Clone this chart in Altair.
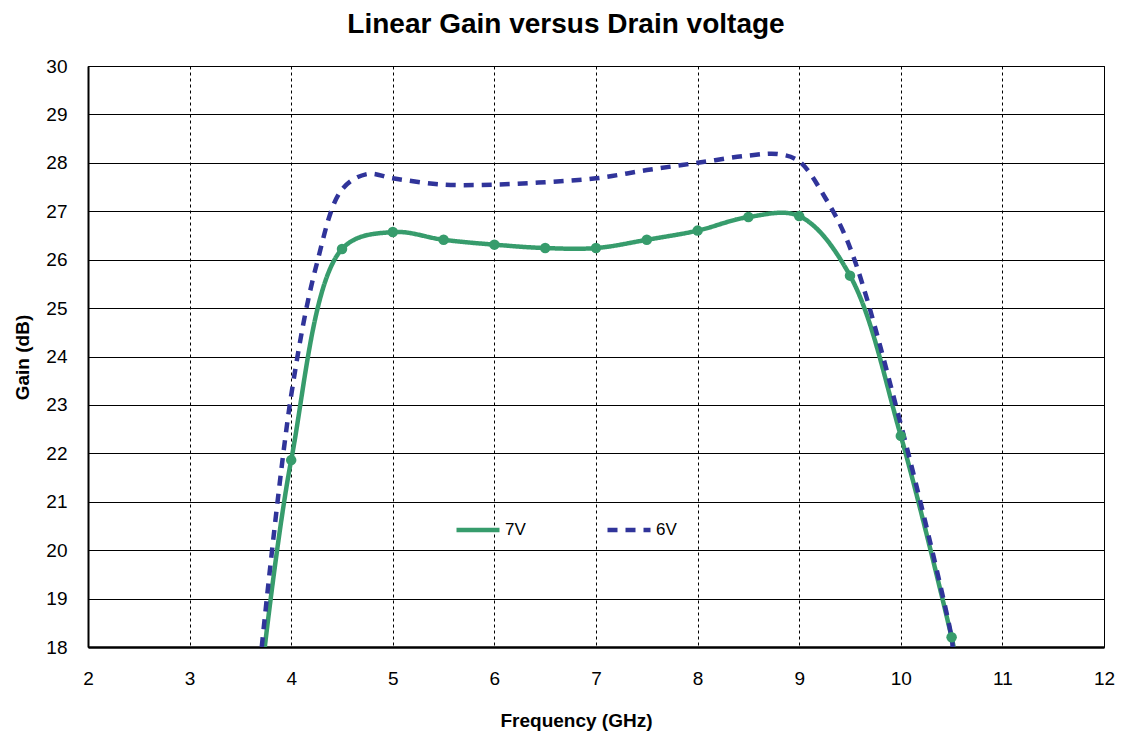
import altair as alt
import pandas as pd

# 7V series (smoothed line with markers)
freq_7v = [3.74, 4.0, 4.5, 5.0, 5.5, 6.0, 6.5, 7.0, 7.5, 8.0, 8.5, 9.0, 9.5, 10.0, 10.5, 10.52]
gain_7v = [18.0, 21.86, 26.22, 26.57, 26.41, 26.31, 26.24, 26.24, 26.41, 26.60, 26.88, 26.90, 25.67, 22.36, 18.2, 18.0]
marker_7v = [False, True, True, True, True, True, True, True, True, True, True, True, True, True, True, False]

# 6V series (dashed smoothed line, no markers)
freq_6v = [3.71, 4.0, 4.25, 4.5, 4.75, 5.0, 5.5, 6.0, 6.5, 7.0, 7.5, 8.0, 8.5, 8.8, 9.0, 9.25, 9.5, 10.0, 10.5, 10.51]
gain_6v = [18.0, 23.2, 25.9, 27.45, 27.77, 27.68, 27.55, 27.55, 27.6, 27.68, 27.85, 28.0, 28.15, 28.18, 28.03, 27.3, 26.25, 22.6, 18.2, 18.0]

series_names = ["7V", "6V"]
series_colors = ["#379C6C", "#30349A"]

df7 = pd.DataFrame({"freq": freq_7v, "gain": gain_7v, "marker": marker_7v, "series": "7V", "order": range(len(freq_7v))})
df6 = pd.DataFrame({"freq": freq_6v, "gain": gain_6v, "marker": False, "series": "6V", "order": range(len(freq_6v))})
df = pd.concat([df7, df6], ignore_index=True)

FONT = "Liberation Sans"

x_enc = alt.X("freq:Q", scale=alt.Scale(domain=[2, 12], nice=False, zero=False),
              axis=alt.Axis(values=list(range(2, 13)), title="Frequency (GHz)", format="d",
                            grid=True, gridDash=[3, 3], gridColor="#000000", gridWidth=1,
                            ticks=False, labelPadding=22, labelFontSize=19, labelFlush=False,
                            domainColor="#000000", domainWidth=2.5,
                            titleX=488, titleY=73, titleBaseline="middle", titleAlign="center",
                            titleFontSize=19, titleFontWeight="bold"))
y_enc = alt.Y("gain:Q", scale=alt.Scale(domain=[18, 30], nice=False, zero=False),
              axis=alt.Axis(values=list(range(18, 31)), title="Gain (dB)", format="d",
                            grid=True, gridColor="#000000", gridWidth=1.2,
                            ticks=False, labelPadding=21, labelFontSize=19, labelFlush=False,
                            domainColor="#000000", domainWidth=2,
                            titleX=-66, titleY=291, titleBaseline="middle", titleAlign="center",
                            titleAngle=270, titleFontSize=19, titleFontWeight="bold"))

color_scale = alt.Scale(domain=series_names, range=series_colors)
dash_scale = alt.Scale(domain=series_names, range=[[1, 0], [10, 8]])

legend_kw = dict(title=None, orient="none", legendX=366, legendY=440, direction="horizontal",
                 symbolType="stroke", symbolSize=1849, symbolStrokeWidth=4.5,
                 labelFontSize=17, labelOffset=3, columnPadding=72, labelFont=FONT,
                 labelColor="#000000")

lines = alt.Chart(df).mark_line(interpolate="catmull-rom", strokeWidth=4.5, clip=True).encode(
    x=x_enc,
    y=y_enc,
    order="order:Q",
    color=alt.Color("series:N", scale=color_scale, legend=alt.Legend(**legend_kw)),
    strokeDash=alt.StrokeDash("series:N", scale=dash_scale, legend=alt.Legend(**legend_kw)),
)

points = alt.Chart(df).mark_circle(size=110, opacity=1, clip=True).encode(
    x="freq:Q",
    y="gain:Q",
    color=alt.Color("series:N", scale=color_scale, legend=None),
).transform_filter(alt.datum.marker == True)

chart = alt.layer(lines, points).properties(
    width=1016,
    height=581,
    padding={"left": 80, "top": 58, "right": 13, "bottom": 90},
    autosize=alt.AutoSizeParams(type="none"),
    title=alt.TitleParams("Linear Gain versus Drain voltage", fontSize=28, fontWeight="bold",
                          font=FONT, anchor="middle", dx=-30, offset=18, color="#000000"),
).configure(font=FONT).configure_view(
    stroke="#000000", strokeWidth=1
).configure_axis(
    labelColor="#000000", titleColor="#000000", labelFont=FONT, titleFont=FONT
)

chart.save("out.html", embed_options={"renderer": "svg", "actions": False})
